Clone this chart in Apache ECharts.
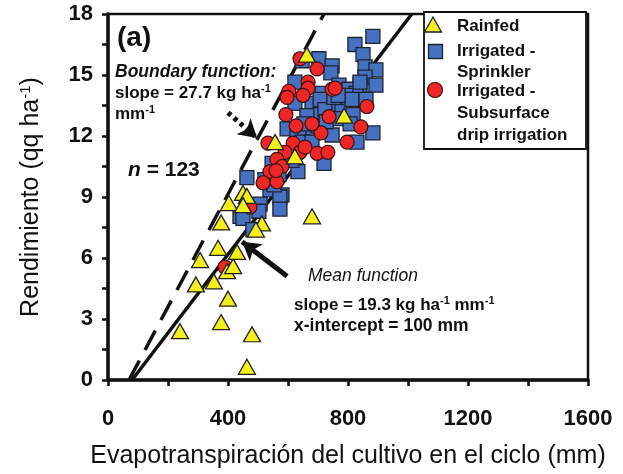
<!DOCTYPE html>
<html><head><meta charset="utf-8">
<script src="https://cdn.jsdelivr.net/npm/echarts@6/dist/echarts.min.js"></script>
<style>html,body{margin:0;padding:0;background:#fff}#c{width:623px;height:474px}</style>
</head><body><div id="c"></div>
<script>
// ---- data (ET mm, yield) ----
const rainfed = [[240,2.4],[377,2.85],[463,0.65],[480,2.25],[400,4.0],[293,4.7],[353,4.85],[307,5.9],[397,5.35],[417,5.6],[430,6.3],[367,6.5],[377,7.75],[403,8.7],[450,9.2],[463,9.05],[450,8.6],[513,7.7],[493,7.4],[680,8.05],[557,11.7],[663,16.0],[623,11.0],[787,13.0]];
const sprinkler = [[883,16.9],[823,16.5],[850,16.0],[703,15.8],[647,15.7],[747,15.45],[857,15.4],[893,15.25],[743,15.1],[857,14.9],[893,14.5],[623,14.65],[770,14.5],[840,14.5],[803,14.3],[827,14.1],[713,14.1],[623,13.6],[680,13.6],[737,13.4],[707,13.8],[790,13.7],[803,13.5],[780,13.2],[817,13.05],[677,12.9],[707,13.05],[763,12.85],[807,12.6],[597,12.35],[630,12.15],[657,12.25],[683,12.15],[747,12.05],[883,12.15],[647,11.7],[680,11.7],[830,11.7],[720,10.65],[633,10.25],[547,10.65],[570,10.1],[523,9.85],[540,9.35],[580,9.1],[463,9.95],[573,9.0],[507,8.65],[503,8.3],[573,8.4],[440,8.05],[450,7.95],[483,7.4],[840,14.65],[663,13.0],[723,13.3],[753,13.9],[793,14.0],[813,13.8],[767,14.0],[653,12.6],[700,12.5],[727,12.7],[613,10.8],[553,9.6],[860,13.8]];
const drip = [[640,15.8],[697,15.3],[667,14.65],[667,14.35],[603,14.2],[597,13.9],[650,14.0],[747,14.3],[757,14.35],[593,13.05],[863,13.45],[737,12.95],[843,12.45],[710,12.15],[797,11.7],[533,11.65],[617,11.65],[590,11.2],[697,11.15],[733,11.2],[640,11.2],[657,11.45],[563,10.85],[580,10.5],[540,10.25],[517,9.7],[563,9.75],[473,8.5],[390,5.55],[627,12.5],[680,12.6],[560,10.3]];
const seriesNames = ['Rainfed','Irrigated - Sprinkler','Irrigated - Subsurface drip irrigation'];
const legendLines = [['Rainfed'],['Irrigated -','Sprinkler'],['Irrigated -','Subsurface','drip irrigation']];
// fitted lines (slope in yield units per mm, x-intercept in mm as drawn)
const boundarySlope = 0.0277, boundaryX0 = 70;
const meanSlope = 0.0193, meanX0 = 80;
const yMax = 18, xMax = 1600;
const xTicks = [0,400,800,1200,1600];
const yTicks = [0,3,6,9,12,15,18];

const chart = echarts.init(document.getElementById('c'), null, {renderer:'canvas'});
const F = "'Liberation Sans', Arial, sans-serif";
const lineEnd = (s, x0) => [[x0, 0], [x0 + yMax / s, yMax]];
const sup = {fontSize: 11, fontWeight: 'bold', fontFamily: F, padding: [0,0,8,0], fill:'#111'};

const option = {
  animation: false,
  grid: {left:108, right:35, top:14, bottom:93, show:true, borderColor:'#111', borderWidth:2.5},
  xAxis: {type:'value', min:0, max:xMax, interval:200,
    axisLine:{lineStyle:{color:'#111', width:3.5}},
    axisTick:{inside:false, length:6, lineStyle:{color:'#111', width:2.5}},
    splitLine:{show:false},
    axisLabel:{margin:28, fontFamily:F, fontWeight:'bold', fontSize:22, color:'#111',
      formatter: v => xTicks.includes(v) ? String(v) : ''},
    name:'Evapotranspiración del cultivo en el ciclo (mm)', nameLocation:'middle', nameGap:64,
    nameTextStyle:{fontFamily:F, fontSize:25, color:'#111'}},
  yAxis: {type:'value', min:0, max:yMax, interval:1.5,
    axisLine:{lineStyle:{color:'#111', width:3.5}},
    axisTick:{inside:false, length:6, lineStyle:{color:'#111', width:2.5}},
    splitLine:{show:false},
    axisLabel:{margin:15, fontFamily:F, fontWeight:'bold', fontSize:22, color:'#111',
      formatter: v => yTicks.includes(v) ? String(v) : ''},
    name:'{n|Rendimiento (qq ha}{s|-1}{n|)}', nameLocation:'middle', nameGap:64,
    nameTextStyle:{rich:{n:{fontFamily:F, fontSize:25, color:'#111'}, s:{fontFamily:F, fontSize:15, color:'#111', padding:[0,0,11,0]}}}},
  series: [
    {type:'line', data:lineEnd(meanSlope, meanX0), symbol:'none', z:1,
      lineStyle:{color:'#111', width:3.5}, silent:true,
      markLine:{silent:true, symbol:['none','arrow'], symbolSize:[16,18], label:{show:false},
        lineStyle:{color:'#111', width:5, type:'solid'},
        data:[[{coord:[597,5.1]},{coord:[447,6.8]}]]}},
    {type:'line', data:lineEnd(boundarySlope, boundaryX0), symbol:'none', z:1,
      lineStyle:{color:'#111', width:3.5, type:[22,12]}, silent:true,
      markLine:{silent:true, symbol:['none','arrow'], symbolSize:[16,18], label:{show:false},
        lineStyle:{color:'#111', width:5, type:[4,4]},
        data:[[{coord:[400,13.15]},{coord:[497,11.9]}]]}},
    {name:seriesNames[1], type:'scatter', data:sprinkler, symbol:'rect', symbolSize:14, z:3,
      itemStyle:{color:'#4670c0', borderColor:'#1d2430', borderWidth:1.3, opacity:1}},
    {name:seriesNames[2], type:'scatter', data:drip, symbol:'circle', symbolSize:14, z:4,
      itemStyle:{color:'#ee2626', borderColor:'#3a1010', borderWidth:1.2, opacity:1}},
    {name:seriesNames[0], type:'scatter', data:rainfed, symbol:'triangle', symbolSize:[17,15], z:5,
      itemStyle:{color:'#f3ef1c', borderColor:'#222', borderWidth:1.3, opacity:1}}
  ],
  graphic: []
};

// annotations
const G = [];
const B = (s) => ({fontFamily:F, fontWeight:'bold', fontSize:s, fill:'#111'});
G.push({type:'text', x:117, y:38, z:10, style:{text:'(a)', font:`bold 28px ${F}`, fill:'#111', verticalAlign:'middle'}});
G.push({type:'text', x:115, y:72, z:10, style:{text:'Boundary function:', font:`italic bold 17.5px ${F}`, fill:'#111', verticalAlign:'middle'}});
G.push({type:'text', x:115, y:93, z:10, style:{text:'{b|slope = 27.7 kg ha}{s|-1}', verticalAlign:'middle', rich:{b:B(17), s:sup}}});
G.push({type:'text', x:115, y:114, z:10, style:{text:'{b|mm}{s|-1}', verticalAlign:'middle', rich:{b:B(17), s:sup}}});
G.push({type:'text', x:128, y:170, z:10, style:{text:'{i|n}{b| = 123}', verticalAlign:'middle',
  rich:{i:{fontFamily:F, fontWeight:'bold', fontStyle:'italic', fontSize:21, fill:'#111'}, b:B(21)}}});
G.push({type:'text', x:308, y:276, z:10, style:{text:'Mean function', font:`italic 17.5px ${F}`, fill:'#111', verticalAlign:'middle'}});
G.push({type:'text', x:294, y:305, z:10, style:{text:'{b|slope = 19.3 kg ha}{s|-1}{b| mm}{s|-1}', verticalAlign:'middle', rich:{b:B(17), s:sup}}});
G.push({type:'text', x:294, y:326, z:10, style:{text:'x-intercept = 100 mm', font:`bold 17.5px ${F}`, fill:'#111', verticalAlign:'middle'}});

// legend box
G.push({type:'rect', z:20, shape:{x:424, y:12, width:162, height:137}, style:{fill:'#fff', stroke:'#111', lineWidth:1.8}});
const legendY = [[26],[51,72],[91,113,135]];
const icons = [
  {type:'polygon', shape:{points:[[433,17],[441.5,32],[424.5,32]]}, style:{fill:'#f3ef1c', stroke:'#222', lineWidth:1.3}},
  {type:'rect', shape:{x:428.5, y:44.5, width:14, height:14}, style:{fill:'#4670c0', stroke:'#1d2430', lineWidth:1.3}},
  {type:'circle', shape:{cx:435, cy:90, r:7.5}, style:{fill:'#ee2626', stroke:'#3a1010', lineWidth:1.2}}
];
icons.forEach(ic => { ic.z = 21; G.push(ic); });
legendLines.forEach((lines, i) => lines.forEach((t, j) => {
  G.push({type:'text', z:21, x:457, y:legendY[i][j], style:{text:t, font:`bold 17px ${F}`, fill:'#111', verticalAlign:'middle'}});
}));
option.graphic = G;
chart.setOption(option);
</script></body></html>
